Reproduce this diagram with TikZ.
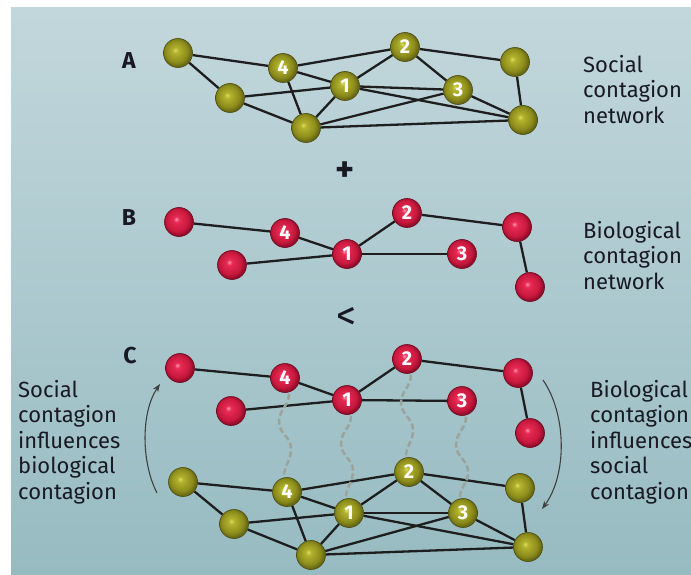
\documentclass[tikz,border=0pt]{standalone}
\usepackage{fontspec}
\setmainfont{Fira Sans}
\usetikzlibrary{arrows.meta,calc}
\definecolor{bgtop}{RGB}{194,215,220}
\definecolor{bgbot}{RGB}{150,187,193}
\definecolor{olL}{RGB}{220,220,100}
\definecolor{olM}{RGB}{178,178,45}
\definecolor{olD}{RGB}{140,140,28}
\definecolor{olE}{RGB}{105,105,20}
\definecolor{rdL}{RGB}{255,150,170}
\definecolor{rdM}{RGB}{232,42,82}
\definecolor{rdD}{RGB}{200,25,62}
\definecolor{rdE}{RGB}{150,12,42}
\definecolor{edgec}{RGB}{30,30,30}
\definecolor{wavec}{RGB}{155,163,155}
\definecolor{txt}{RGB}{25,25,35}
\pgfdeclareradialshading{olivesh}{\pgfpoint{-5bp}{5bp}}{color(0bp)=(olL); color(5bp)=(olM); color(19bp)=(olD); color(25bp)=(olE); color(50bp)=(olE)}
\pgfdeclareradialshading{redsh}{\pgfpoint{-5bp}{5bp}}{color(0bp)=(rdL); color(5bp)=(rdM); color(19bp)=(rdD); color(25bp)=(rdE); color(50bp)=(rdE)}
\pgfdeclarelayer{bg}
\pgfdeclarelayer{edges}
\pgfsetlayers{bg,edges,main}
\tikzset{
  olnode/.style={circle, minimum size=29pt, inner sep=0pt, shading=olivesh, draw=olE!70!black, line width=0.6pt, text=white, font=\fontsize{20}{20}\selectfont\bfseries},
  rdnode/.style={circle, minimum size=29pt, inner sep=0pt, shading=redsh, draw=rdE!70!black, line width=0.6pt, text=white, font=\fontsize{20}{20}\selectfont\bfseries},
  link/.style={draw=edgec, line width=2.3pt},
  wave/.style={draw=wavec, line width=2.5pt, dash pattern=on 6pt off 3pt},
  infarrow/.style={draw=black!75, line width=1.1pt, -{Stealth[length=8pt,width=6pt]}},
  lbl/.style={text=txt, font=\fontsize{22}{25.5}\selectfont, align=left, anchor=base west, inner sep=0pt},
  panel/.style={text=txt, font=\fontsize{23}{23}\selectfont\bfseries, inner sep=0pt},
  opsym/.style={text=txt, font=\fontsize{36}{36}\selectfont\bfseries, inner sep=0pt},
  opless/.style={text=txt, font=\fontsize{40}{40}\selectfont, inner sep=0pt},
}
\begin{document}
\begin{tikzpicture}[x=1pt,y=-1pt]
\begin{pgfonlayer}{bg}
\fill[white] (0,0) rectangle (691,575);
\shade[top color=bgtop, bottom color=bgbot] (11,8) rectangle (691,575);
\end{pgfonlayer}
\useasboundingbox (0,0) rectangle (691,575);

% ---- A: social network
\node[olnode] (aL)  at (178,53)  {};
\node[olnode] (a4)  at (283,68)  {4};
\node[olnode] (a2)  at (405,47)  {2};
\node[olnode] (aR)  at (515,62)  {};
\node[olnode] (aLL) at (230,98)  {};
\node[olnode] (a1)  at (345,86)  {1};
\node[olnode] (a3)  at (458,90)  {3};
\node[olnode] (aB)  at (306,128) {};
\node[olnode] (aRB) at (523,120) {};

% ---- B: biological network
\node[rdnode] (bL)  at (179,222) {};
\node[rdnode] (b4)  at (285,233) {4};
\node[rdnode] (b2)  at (407,213) {2};
\node[rdnode] (bR)  at (517,227) {};
\node[rdnode] (bLL) at (232,265) {};
\node[rdnode] (b1)  at (347,254) {1};
\node[rdnode] (b3)  at (462,254) {3};
\node[rdnode] (bRB) at (530,287) {};

% ---- C: biological (top)
\node[rdnode] (cL)  at (180,368) {};
\node[rdnode] (c4)  at (285,378) {4};
\node[rdnode] (c2)  at (407,359) {2};
\node[rdnode] (cR)  at (518,373) {};
\node[rdnode] (cLL) at (231,411) {};
\node[rdnode] (c1)  at (347,400) {1};
\node[rdnode] (c3)  at (462,401) {3};
\node[rdnode] (cRB) at (530,433) {};

% ---- C: social (bottom)
\node[olnode] (dL)  at (183,482) {};
\node[olnode] (d4)  at (287,492) {4};
\node[olnode] (d2)  at (409,472) {2};
\node[olnode] (dR)  at (520,488) {};
\node[olnode] (dLL) at (234,524) {};
\node[olnode] (d1)  at (349,513) {1};
\node[olnode] (d3)  at (463,513) {3};
\node[olnode] (dB)  at (311,555) {};
\node[olnode] (dRB) at (528,547) {};

\begin{pgfonlayer}{edges}
\foreach \p in {a,d}{
  \foreach \u/\v in {L/4,L/LL,4/2,4/1,4/B,2/1,2/3,2/R,R/RB,LL/1,LL/B,1/B,1/3,1/RB,B/3,B/RB,3/RB}
    \draw[link] (\p\u) -- (\p\v);
}
\foreach \p in {b,c}{
  \foreach \u/\v in {L/4,4/1,1/2,2/R,R/RB,LL/1,1/3}
    \draw[link] (\p\u) -- (\p\v);
}
\foreach \u/\v in {c4/d4,c1/d1,c2/d2,c3/d3}
  \draw[wave] ($(\u.south)+(4,1)$) .. controls +(0,12) and +(0,-12) .. ++(-10,28)
     .. controls +(0,12) and +(0,-12) .. ++(12,27)
     .. controls +(0,12) and +(0,-10) .. ($(\v.north)+(-3,-1)$);
\end{pgfonlayer}

% influence arrows
\coordinate (la1) at (157,493);
\coordinate (la2) at (160,384);
\coordinate (ra1) at (543,380);
\coordinate (ra2) at (542,509);
\draw[infarrow] (la1) .. controls (141,462) and (141,412) .. (la2);
\draw[infarrow] (ra1) .. controls (567,415) and (567,475) .. (ra2);

% labels
\node[panel] (lA) at (129,60.5) {A};
\node[panel] (lB) at (129,217.5) {B};
\node[panel] (lC) at (130,356) {C};
\node[opsym] (plus) at (345,172) {+};
\node[opless] (less) at (346,318) {<};

\node[lbl] (tA) at (583,123.5) {Social\\contagion\\network};
\node[lbl] (tB) at (583,289) {Biological\\contagion\\network};
\node[lbl] (tL) at (18,499) {Social\\contagion\\influences\\biological\\contagion};
\node[lbl] (tR) at (590,499) {Biological\\contagion\\influences\\social\\contagion};
\end{tikzpicture}
\end{document}
